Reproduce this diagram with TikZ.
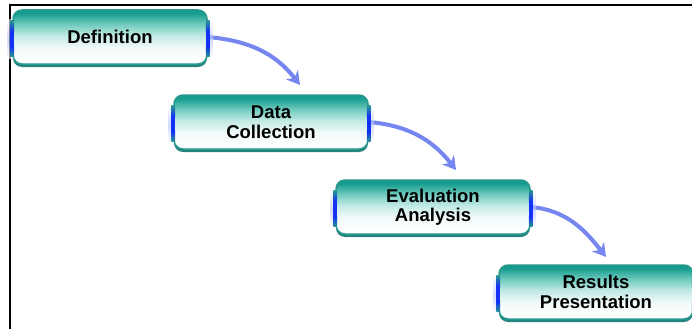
\documentclass[tikz,border=0pt]{standalone}
\usepackage{fontspec}
\setmainfont{Liberation Sans}
\usetikzlibrary{arrows.meta,shadows}
\definecolor{tealtop}{RGB}{22,156,142}
\definecolor{tealmid}{RGB}{110,202,190}
\definecolor{teallight}{RGB}{190,232,226}
\definecolor{tealwhite}{RGB}{242,251,250}
\definecolor{boxedge}{RGB}{40,152,142}
\definecolor{boxshadow}{RGB}{38,132,126}
\definecolor{barblue}{RGB}{20,50,245}
\definecolor{glowblue}{RGB}{180,195,255}
\definecolor{arrowblue}{RGB}{118,134,240}
\pgfdeclareverticalshading{boxshade}{100bp}{color(0bp)=(white); color(25bp)=(white);
  color(40bp)=(tealwhite); color(52bp)=(teallight); color(62bp)=(tealmid);
  color(72bp)=(tealtop); color(100bp)=(tealtop)}
\newcommand\edgebars[1]{%
  \shade[top color=white, bottom color=white, middle color=glowblue, opacity=0.6]
    ([shift={(0,-10)}]#1.north east) rectangle ([shift={(5,6)}]#1.south east);
  \shade[top color=boxedge, bottom color=barblue]
    ([shift={(-1.8,-11)}]#1.north east) rectangle ([shift={(1.8,-22)}]#1.north east);
  \fill[barblue]
    ([shift={(-1.8,-22)}]#1.north east) rectangle ([shift={(1.8,18)}]#1.south east);
  \shade[top color=barblue, bottom color=boxedge]
    ([shift={(-1.8,18)}]#1.south east) rectangle ([shift={(1.8,8)}]#1.south east);
  \shade[top color=white, bottom color=white, middle color=glowblue, opacity=0.6]
    ([shift={(-5,-10)}]#1.north west) rectangle ([shift={(0,6)}]#1.south west);
  \shade[top color=boxedge, bottom color=barblue]
    ([shift={(-1.8,-11)}]#1.north west) rectangle ([shift={(1.8,-22)}]#1.north west);
  \fill[barblue]
    ([shift={(-1.8,-22)}]#1.north west) rectangle ([shift={(1.8,18)}]#1.south west);
  \shade[top color=barblue, bottom color=boxedge]
    ([shift={(-1.8,18)}]#1.south west) rectangle ([shift={(1.8,8)}]#1.south west);
}
\begin{document}
\begin{tikzpicture}[x=1pt,y=1pt,
  stepbox/.style={rounded corners=9pt, minimum width=194pt, minimum height=54pt,
    draw=boxedge, line width=1.5pt, shade, shading=boxshade,
    align=center, text=black,
    font=\fontsize{18.5}{19.5}\selectfont\bfseries,
    drop shadow={shadow xshift=0pt, shadow yshift=-3pt, opacity=1, fill=boxshadow}},
  flow/.style={draw=arrowblue, line width=4pt,
    -{Stealth[length=13pt,width=15pt,inset=4pt]}}]
\useasboundingbox (0,0) rectangle (692,-329);
\draw[line width=1.3pt] (10,-329) -- (10,-5) -- (692,-5);

\node[stepbox] (b1) at (110,-37) {Definition};
\node[stepbox] (b2) at (271,-122) {Data\\Collection};
\node[stepbox] (b3) at (433,-207) {Evaluation\\Analysis};
\node[stepbox] (b4) at (596,-292) {Results\\Presentation};

\coordinate (t1) at (300,-85);
\coordinate (t2) at (456,-170);
\coordinate (t3) at (606,-257);

\draw[flow] (b1.east) to[out=-5,in=128] (t1);
\draw[flow] (b2.east) to[out=-5,in=128] (t2);
\draw[flow] (b3.east) to[out=-5,in=128] (t3);

\edgebars{b1}
\edgebars{b2}
\edgebars{b3}
\edgebars{b4}
\end{tikzpicture}
\end{document}
